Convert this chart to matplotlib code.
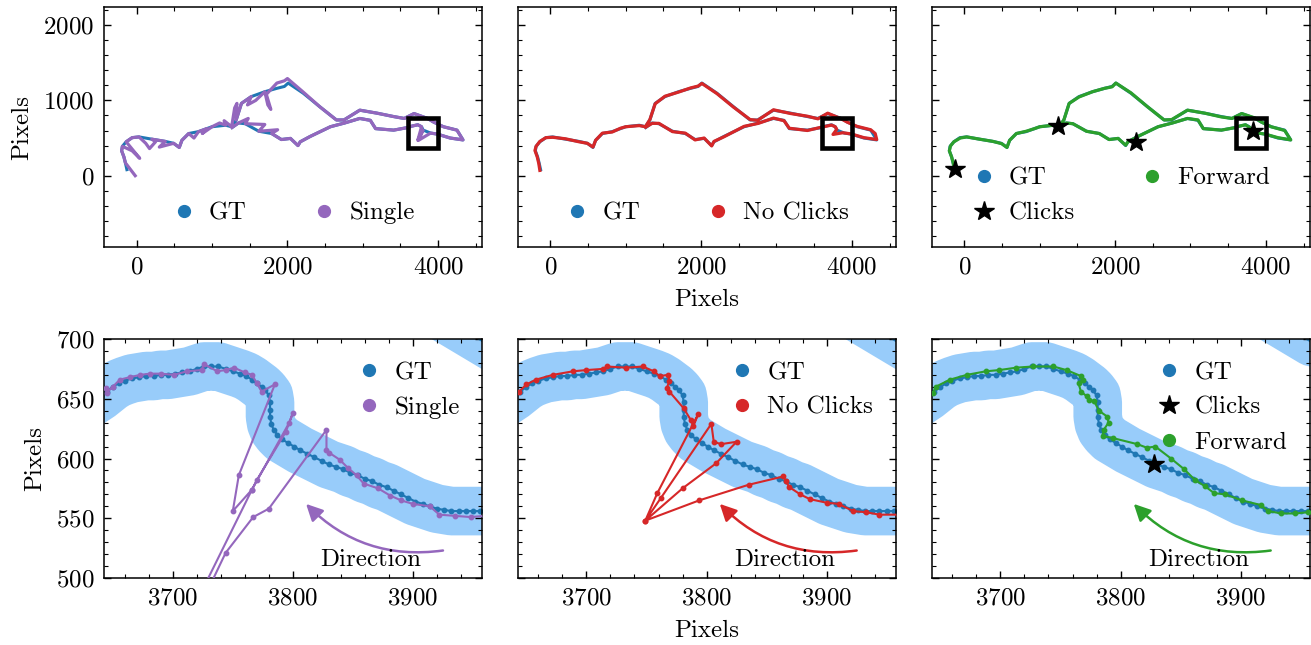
import matplotlib
matplotlib.use("Agg")
import matplotlib.pyplot as plt
from matplotlib.lines import Line2D
from matplotlib.patches import Rectangle
from matplotlib.ticker import MultipleLocator, AutoMinorLocator

# colours
gt_color = '#1f77b4'
band_color = '#98ccfa'
method_colors = ['#9467bd', '#d62728', '#2ca02c']
method_names = ['Single', 'No Clicks', 'Forward']

# full trajectories (top row)
gt_top_x = [-130, -150, -170, -200, -190, -140, -60, 30, 200, 380, 490, 565, 600, 690, 820, 930, 1000, 1180, 1260, 1320,
            1390, 1520, 1700, 1860, 1960, 2010, 2210, 2430, 2650, 2750, 2960, 3190, 3410, 3550, 3680, 3860, 3940, 4070,
            4250, 4330, 4160, 3990, 3900, 3800, 3780, 3730, 3650, 3600, 3410, 3170, 3100, 2960, 2760, 2570, 2300, 2170,
            2140, 2040, 1920, 1790, 1620, 1440, 1350, 1265]
gt_top_y = [80, 170, 250, 330, 390, 450, 505, 515, 485, 455, 430, 375, 470, 560, 585, 625, 650, 670, 650, 740,
            960, 1050, 1115, 1160, 1185, 1230, 1095, 915, 740, 740, 870, 830, 785, 760, 825, 760, 712, 650,
            605, 475, 500, 552, 566, 606, 650, 676, 658, 640, 605, 625, 735, 760, 700, 650, 520, 450,
            400, 495, 480, 560, 590, 690, 700, 640]

single_top_x = [-20, -150, -170, -200, -190, -60, 40, -140, -60, 30, 120, 170, 250, 200, 380, 300, 490, 565, 600, 690,
                760, 820, 930, 870, 1000, 1100, 1180, 1160, 1260, 1300, 1330, 1320, 1390, 1520, 1470, 1580, 1700, 1740,
                1780, 1720, 1860, 1960, 2000, 2210, 2430, 2650, 2750, 2960, 3190, 3410, 3550, 3680, 3860, 3940, 4070,
                4250, 4330, 4160, 3990, 3900, 3740, 3800, 3730, 3780, 3730, 3650, 3600, 3410, 3170, 3100, 2960, 2760,
                2570, 2300, 2170, 2140, 2040, 1920, 1790, 1870, 1620, 1700, 1440, 1480, 1350, 1265]
single_top_y = [0, 170, 250, 330, 390, 330, 230, 450, 505, 515, 430, 360, 450, 485, 455, 380, 430, 375, 470, 560,
                500, 585, 625, 560, 650, 700, 670, 730, 650, 900, 960, 740, 960, 1050, 940, 1000, 1115, 940,
                880, 1080, 1230, 1260, 1290, 1110, 915, 740, 740, 870, 830, 785, 760, 825, 760, 712, 650,
                605, 475, 500, 552, 566, 470, 606, 470, 650, 676, 658, 640, 605, 625, 735, 760, 700,
                650, 520, 450, 400, 495, 480, 560, 610, 590, 680, 690, 760, 700, 640]

noclick_top_x = [-140, -155, -175, -205, -190, -140, -60, 30, 200, 380, 490, 565, 600, 690, 820, 930, 1000, 1180, 1260,
                 1320, 1390, 1520, 1700, 1860, 1960, 2010, 2210, 2430, 2650, 2750, 2960, 3190, 3410, 3550, 3680, 3860,
                 3940, 4070, 4250, 4310, 4330, 4160, 3990, 3880, 3750, 3800, 3780, 3730, 3650, 3600, 3410, 3170, 3100,
                 2960, 2760, 2570, 2300, 2170, 2140, 2040, 1920, 1790, 1620, 1440, 1350, 1265]
noclick_top_y = [70, 165, 250, 335, 390, 455, 505, 510, 490, 450, 430, 380, 470, 565, 580, 630, 650, 665, 650,
                 745, 955, 1055, 1110, 1165, 1190, 1225, 1090, 910, 745, 735, 875, 825, 790, 755, 830, 755,
                 710, 655, 610, 560, 480, 505, 555, 570, 548, 615, 650, 672, 655, 645, 600, 630, 730,
                 765, 695, 655, 515, 455, 395, 500, 475, 565, 585, 695, 695, 645]

fwd_top_x = [-135, -150, -170, -200, -185, -140, -55, 30, 200, 380, 495, 565, 600, 690, 820, 930, 1000, 1180, 1255, 1320,
             1390, 1520, 1700, 1860, 1960, 2010, 2210, 2430, 2650, 2750, 2960, 3190, 3410, 3550, 3680, 3860, 3940, 4070,
             4250, 4330, 4160, 3990, 3900, 3830, 3785, 3730, 3650, 3600, 3410, 3170, 3100, 2960, 2760, 2570, 2300, 2170,
             2140, 2040, 1920, 1790, 1620, 1440, 1350, 1265]
fwd_top_y = [90, 175, 250, 330, 395, 450, 500, 515, 485, 455, 425, 375, 470, 560, 590, 625, 650, 670, 655, 740,
             960, 1045, 1115, 1160, 1180, 1230, 1100, 915, 740, 745, 870, 830, 780, 760, 825, 765, 712, 650,
             600, 475, 505, 552, 566, 610, 640, 676, 658, 640, 605, 625, 740, 760, 700, 650, 520, 450,
             405, 495, 480, 560, 590, 690, 700, 640]

clicks_top_x = [-130, 1245, 2275, 3828]
clicks_top_y = [84, 660, 450, 595]

# zoomed region (bottom row)
gt_zoom_x = [3610, 3625, 3640, 3645, 3650, 3655, 3660, 3666, 3672, 3678, 3684, 3690, 3696, 3702, 3708, 3714, 3720,
             3726, 3732, 3738, 3744, 3750, 3756, 3761, 3766, 3770, 3774, 3777, 3780, 3781, 3781, 3781, 3782, 3784,
             3787, 3791, 3796, 3801, 3806, 3812, 3818, 3824, 3830, 3836, 3842, 3848, 3854, 3860, 3866, 3872, 3878,
             3884, 3890, 3896, 3902, 3908, 3914, 3920, 3926, 3932, 3938, 3944, 3950, 3956, 3962, 3975, 3990]
gt_zoom_y = [632, 642, 652, 656, 660, 663, 665, 667, 668, 669, 669, 670, 670, 671, 672, 673, 675,
             677, 677, 677, 675, 673, 671, 669, 666, 663, 660, 657, 653, 647, 641, 635, 629, 624,
             620, 616, 613, 610, 607, 604, 601, 598, 595, 593, 591, 588, 586, 583, 581, 578, 576,
             573, 570, 567, 564, 562, 560, 558, 557, 556, 556, 556, 556, 556, 556, 556, 556]
gt_upper_x = [3860, 3900, 3940, 3980, 4020]
gt_upper_y = [757, 733, 709, 685, 661]

single_zoom_x = [3975, 3960, 3948, 3935, 3922, 3914, 3900, 3890, 3881, 3871, 3859, 3853, 3846, 3839, 3830, 3828, 3828,
                 3780, 3767, 3744, 3715, 3705, 3766, 3770, 3794, 3800, 3797, 3766, 3750, 3755, 3785, 3774, 3770,
                 3766, 3760, 3751, 3744, 3737, 3726, 3724, 3712, 3701, 3690, 3681, 3673, 3664, 3656, 3650, 3645,
                 3644, 3630]
single_zoom_y = [552, 552, 551, 552, 553, 560, 562, 565, 569, 575, 579, 586, 592, 599, 605, 607, 624,
                 558, 551, 521, 460, 450, 574, 582, 622, 638, 630, 574, 556, 586, 662, 656, 663,
                 670, 672, 676, 674, 673, 679, 674, 673, 670, 671, 671, 670, 668, 666, 660, 655,
                 659, 645]

noclick_zoom_x = [3975, 3960, 3944, 3933, 3922, 3910, 3900, 3886, 3878, 3869, 3866, 3864, 3835, 3794, 3749, 3780,
                  3808, 3825, 3812, 3806, 3804, 3762, 3749, 3759, 3793, 3789, 3787, 3781, 3769, 3767, 3769, 3768,
                  3761, 3756, 3747, 3733, 3717, 3714, 3700, 3689, 3672, 3658, 3650, 3644, 3630]
noclick_zoom_y = [553, 553, 553, 555, 556, 562, 563, 566, 570, 576, 581, 585, 578, 565, 548, 575,
                  596, 614, 612, 614, 629, 567, 548, 571, 637, 627, 632, 642, 656, 659, 665, 670,
                  669, 673, 677, 676, 677, 675, 674, 673, 670, 666, 662, 656, 645]

fwd_zoom_x = [3975, 3956, 3945, 3934, 3923, 3917, 3901, 3887, 3878, 3870, 3862, 3853, 3842, 3829, 3822, 3814, 3794,
              3785, 3786, 3790, 3789, 3782, 3778, 3774, 3772, 3767, 3765, 3769, 3767, 3755, 3744, 3727, 3713, 3699,
              3688, 3672, 3658, 3646, 3644, 3630]
fwd_zoom_y = [554, 555, 554, 554, 556, 561, 565, 570, 571, 577, 582, 591, 600, 610, 609, 612, 617,
              619, 624, 630, 635, 640, 648, 649, 652, 656, 663, 666, 669, 674, 677, 677, 676, 674,
              673, 670, 666, 660, 655, 645]

clicks_zoom_x = [3828]
clicks_zoom_y = [595]

top_paths = [(single_top_x, single_top_y), (noclick_top_x, noclick_top_y), (fwd_top_x, fwd_top_y)]
zoom_paths = [(single_zoom_x, single_zoom_y), (noclick_zoom_x, noclick_zoom_y), (fwd_zoom_x, fwd_zoom_y)]

plt.rcParams.update({
    'font.family': 'cmr10',
    'mathtext.fontset': 'cm',
    'axes.formatter.use_mathtext': True,
    'font.size': 18,
    'axes.linewidth': 1.1,
    'axes.labelpad': 7,
    'xtick.direction': 'in', 'ytick.direction': 'in',
    'xtick.top': True, 'ytick.right': True,
    'xtick.minor.visible': True, 'ytick.minor.visible': True,
    'xtick.major.size': 5, 'ytick.major.size': 5,
    'xtick.minor.size': 3, 'ytick.minor.size': 3,
    'xtick.major.width': 1.0, 'ytick.major.width': 1.0,
    'xtick.minor.width': 0.8, 'ytick.minor.width': 0.8,
    'xtick.major.pad': 7, 'ytick.major.pad': 7,
    'legend.frameon': False,
    'legend.handlelength': 1.0,
    'legend.handletextpad': 0.5,
})

fig = plt.figure(figsize=(13.11, 6.45), dpi=100)
lefts = [104 / 1311, 517.7 / 1311, 931.7 / 1311]
w = 378 / 1311

for i in range(3):
    c = method_colors[i]
    # ---- top: full trajectory
    ax = fig.add_axes([lefts[i], 1 - 247 / 645, w, 240 / 645])
    ax.plot(gt_top_x, gt_top_y, color=gt_color, lw=2.2, zorder=2)
    px, py = top_paths[i]
    ax.plot(px, py, color=c, lw=2.3, zorder=3)
    handles = [Line2D([], [], marker='o', ls='none', ms=8.5, color=gt_color, label='GT')]
    if i == 2:
        ax.plot(clicks_top_x, clicks_top_y, marker='*', ls='none', ms=15, color='k', zorder=5)
        handles.append(Line2D([], [], marker='*', ls='none', ms=15, color='k', label='Clicks'))
    handles.append(Line2D([], [], marker='o', ls='none', ms=8.5, color=c, label=method_names[i]))
    ax.add_patch(Rectangle((3600, 362), 400, 400, fill=False, ec='k', lw=3.3, zorder=6))
    ax.set_xlim(-434, 4582)
    ax.set_ylim(-947, 2240)
    ax.xaxis.set_major_locator(MultipleLocator(2000))
    ax.yaxis.set_major_locator(MultipleLocator(1000))
    ax.xaxis.set_minor_locator(AutoMinorLocator())
    ax.yaxis.set_minor_locator(AutoMinorLocator())
    ax.legend(handles=handles, loc='lower center', ncol=2, columnspacing=2.6)
    if i == 0:
        ax.set_ylabel('Pixels')
    else:
        ax.tick_params(labelleft=False)
    if i == 1:
        ax.set_xlabel('Pixels')

    # ---- bottom: zoomed region
    ax = fig.add_axes([lefts[i], 1 - 578 / 645, w, 239 / 645])
    ax.plot(gt_zoom_x, gt_zoom_y, color=band_color, lw=35, solid_joinstyle='round', solid_capstyle='round', zorder=1)
    ax.plot(gt_upper_x, gt_upper_y, color=band_color, lw=35, solid_joinstyle='round', solid_capstyle='round', zorder=1)
    ax.plot(gt_zoom_x, gt_zoom_y, color=gt_color, lw=1.5, marker='o', ms=3.2, zorder=2)
    ax.plot(gt_upper_x, gt_upper_y, color=gt_color, lw=1.5, marker='o', ms=3.2, zorder=2)
    px, py = zoom_paths[i]
    ax.plot(px, py, color=c, lw=1.5, marker='o', ms=3.2, zorder=3)
    if i == 2:
        ax.plot(clicks_zoom_x, clicks_zoom_y, marker='*', ls='none', ms=15, color='k', zorder=5)
    ax.annotate('', xy=(3811, 562), xytext=(3925, 523),
                arrowprops=dict(arrowstyle='-|>', color=c, lw=1.8, mutation_scale=25,
                                connectionstyle='arc3,rad=-0.25', shrinkA=0, shrinkB=0))
    ax.text(3865, 515, 'Direction', ha='center', va='center')
    ax.set_xlim(3642.75, 3957.5)
    ax.set_ylim(500, 700)
    ax.xaxis.set_major_locator(MultipleLocator(100))
    ax.yaxis.set_major_locator(MultipleLocator(50))
    ax.xaxis.set_minor_locator(AutoMinorLocator())
    ax.yaxis.set_minor_locator(AutoMinorLocator())
    ax.legend(handles=handles, loc='upper right')
    if i == 0:
        ax.set_ylabel('Pixels')
    else:
        ax.tick_params(labelleft=False)
    if i == 1:
        ax.set_xlabel('Pixels')

fig.savefig('out.png', dpi=100)
